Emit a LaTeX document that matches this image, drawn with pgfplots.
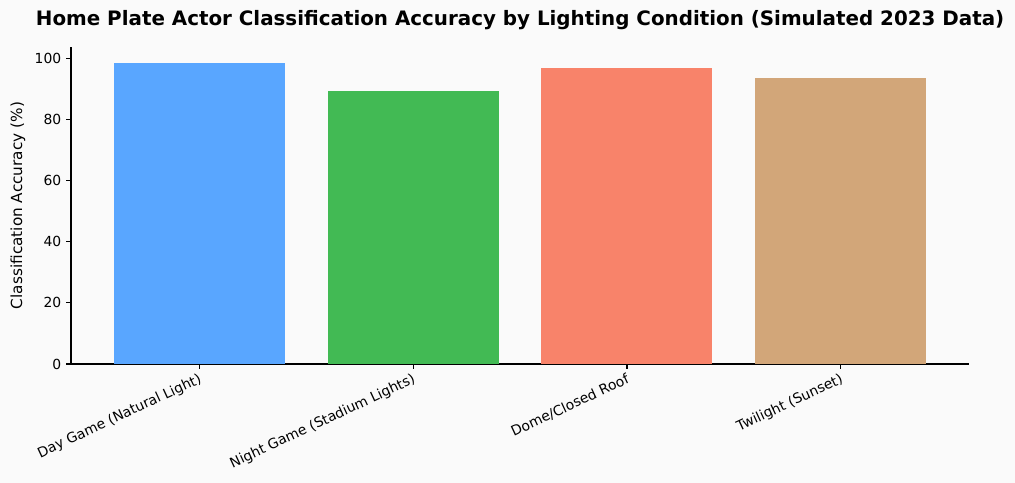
\documentclass[border=0pt]{standalone}
\usepackage{fontspec}
\setmainfont{DejaVu Sans}
\usepackage{pgfplots}
\pgfplotsset{compat=1.18}

\definecolor{bg}{HTML}{FAFAFA}
\definecolor{cday}{RGB}{89,166,255}
\definecolor{cnight}{RGB}{66,186,84}
\definecolor{cdome}{RGB}{248,131,106}
\definecolor{ctwi}{RGB}{210,166,121}

\begin{document}
\begin{tikzpicture}
% page: 1015x483 px at 0.72pt/px, axis box at (71,47)-(969,364)
\path[fill=bg, use as bounding box] (-51.12pt,-85.68pt) rectangle (679.68pt,262.08pt);
\begin{axis}[
    at={(0,0)}, anchor=south west,
    scale only axis,
    width=646.6pt, height=228.2pt,
    xmin=-0.6, xmax=3.6,
    ymin=0, ymax=103.7,
    axis x line*=bottom, axis y line*=left,
    axis line style={black, line width=0.8pt},
    tick align=outside,
    major tick length=3.5pt,
    tick style={black, line width=0.8pt},
    xtick={0,1,2,3},
    xticklabels={Day Game (Natural Light), Night Game (Stadium Lights), Dome/Closed Roof, Twilight (Sunset)},
    xticklabel style={rotate=25, anchor=north east, font=\fontsize{10}{12}\selectfont, inner sep=2pt},
    ytick={0,20,40,60,80,100},
    yticklabel style={font=\fontsize{10}{12}\selectfont},
    /pgf/number format/assume math mode=true,
    ylabel={Classification Accuracy (\%)},
    ylabel style={font=\fontsize{11}{13}\selectfont},
    axis background/.style={fill=bg},
    ybar, bar width=0.8, bar shift=0pt,
    clip=false,
]
\addplot[fill=cday, draw=none] coordinates {(0,98.5)};
\addplot[fill=cnight, draw=none] coordinates {(1,89.3)};
\addplot[fill=cdome, draw=none] coordinates {(2,96.8)};
\addplot[fill=ctwi, draw=none] coordinates {(3,93.5)};
\node[font=\bfseries\fontsize{14.3}{16}\selectfont, anchor=center] at (rel axis cs:0.5,1) [yshift=19.4pt] {Home Plate Actor Classification Accuracy by Lighting Condition (Simulated 2023 Data)};
\end{axis}
\end{tikzpicture}
\end{document}
